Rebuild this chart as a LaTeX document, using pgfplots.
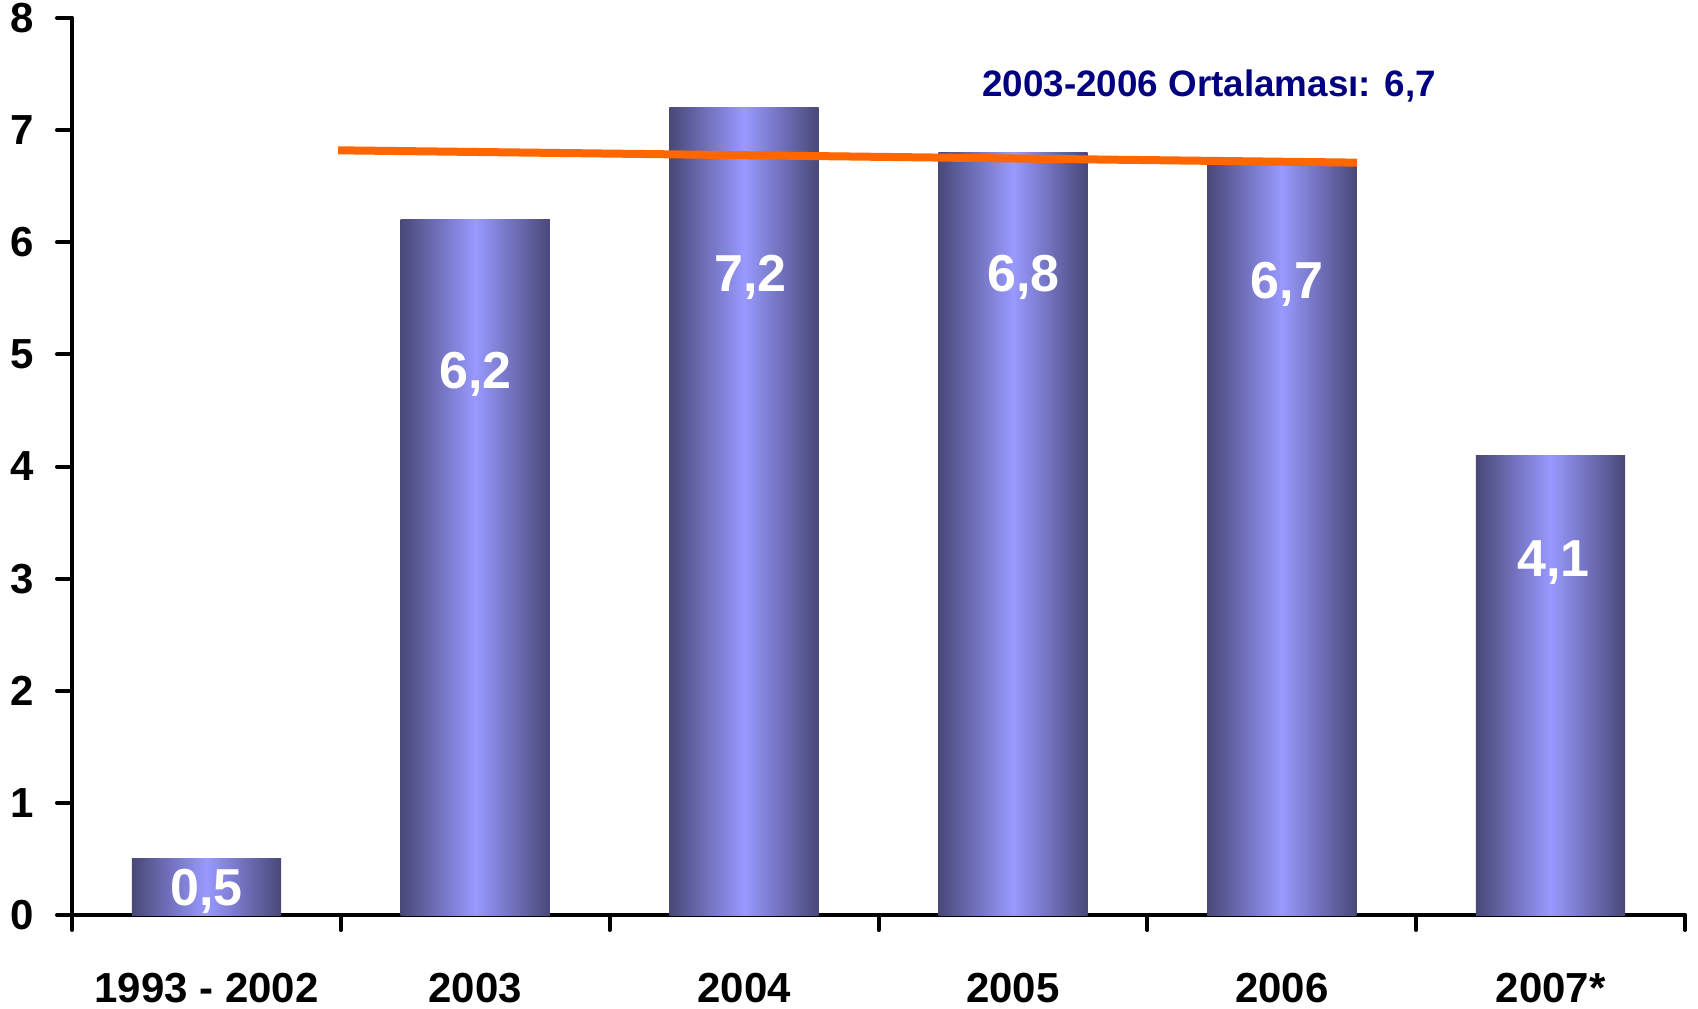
\documentclass[border=0pt]{standalone}
\usepackage{fontspec}
\setmainfont{Liberation Sans}
\usepackage{pgfplots}
\pgfplotsset{compat=1.18}
\definecolor{bardark}{RGB}{72,72,120}
\definecolor{barlight}{RGB}{153,153,255}
\definecolor{lineorange}{RGB}{255,102,0}
\definecolor{navytext}{RGB}{0,0,128}
\pgfplotsset{gradbar/.style={ybar, bar width=0.555, bar shift=0pt, draw=none, left color=bardark, right color=bardark, middle color=barlight}}
\begin{document}
\begin{tikzpicture}
\begin{axis}[
  name=ax,
  scale only axis,
  width=806.5pt, height=448.5pt,
  xmin=-0.5, xmax=5.5, ymin=0, ymax=8,
  axis lines*=left,
  axis line style={line width=2pt, line cap=round},
  every tick/.style={line width=2pt, black, line cap=round},
  tick align=outside,
  xtick={0,...,5},
  xticklabels={1993 - 2002,2003,2004,2005,2006,2007*},
  major x tick style={draw=none},
  minor xtick={-0.5,0.5,...,5.5},
  ytick={0,...,8},
  major tick length=7.5pt,
  minor tick length=7.5pt,
  /pgf/number format/assume math mode=true,
  ticklabel style={font=\fontsize{21}{24}\selectfont\bfseries},
  xticklabel style={yshift=-18pt},
  yticklabel style={xshift=-8pt},
]
\addplot[gradbar] coordinates {(0,0.5)};
\addplot[gradbar] coordinates {(1,6.2)};
\addplot[gradbar] coordinates {(2,7.2)};
\addplot[gradbar] coordinates {(3,6.8)};
\addplot[gradbar] coordinates {(4,6.7)};
\addplot[gradbar] coordinates {(5,4.1)};
\addplot[lineorange, line width=4pt, no marks] coordinates {(0.49,6.82) (4.28,6.71)};
\node[font=\fontsize{26}{30}\selectfont\bfseries, text=white] at (axis cs:0,0.21) {0,5};
\node[font=\fontsize{26}{30}\selectfont\bfseries, text=white] at (axis cs:1,4.82) {6,2};
\node[font=\fontsize{26}{30}\selectfont\bfseries, text=white] at (axis cs:2.024,5.69) {7,2};
\node[font=\fontsize{26}{30}\selectfont\bfseries, text=white] at (axis cs:3.04,5.69) {6,8};
\node[font=\fontsize{26}{30}\selectfont\bfseries, text=white] at (axis cs:4.02,5.62) {6,7};
\node[font=\fontsize{26}{30}\selectfont\bfseries, text=white] at (axis cs:5.01,3.14) {4,1};
\node[font=\fontsize{18.4}{22}\selectfont\bfseries, text=navytext] at (axis cs:3.73,7.39) {2003-2006 Ortalaması: 6,7};
\end{axis}
\pgfresetboundingbox
\path[use as bounding box] ([xshift=-36pt,yshift=-46.5pt]ax.south west) rectangle ([xshift=6.5pt,yshift=9pt]ax.north east);
\end{tikzpicture}
\end{document}
